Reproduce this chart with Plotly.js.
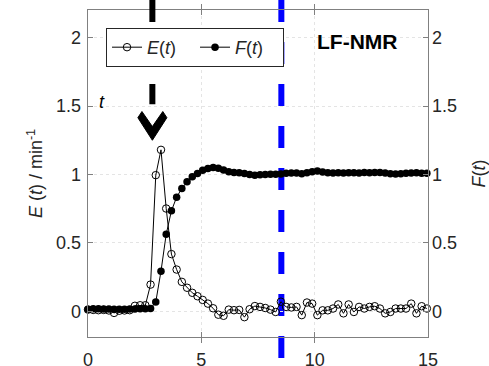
<!DOCTYPE html>
<html>
<head>
<meta charset="utf-8">
<script src="https://cdn.plot.ly/plotly-3.0.1.min.js"></script>
<style>html,body{margin:0;padding:0;background:#fff;}#chart{width:489px;height:366px;}</style>
</head>
<body>
<div id="chart"></div>
<script>
// time (min)
var timeMin = [0, 0.23, 0.46, 0.69, 0.92, 1.15, 1.38, 1.61, 1.84, 2.07, 2.3, 2.53, 2.76, 2.99, 3.22, 3.45, 3.68, 3.91, 4.14, 4.37, 4.6, 4.83, 5.06, 5.29, 5.52, 5.75, 5.98, 6.21, 6.44, 6.67, 6.9, 7.13, 7.36, 7.59, 7.82, 8.05, 8.28, 8.51, 8.74, 8.97, 9.2, 9.43, 9.66, 9.89, 10.12, 10.35, 10.58, 10.81, 11.04, 11.27, 11.5, 11.73, 11.96, 12.19, 12.42, 12.65, 12.88, 13.11, 13.34, 13.57, 13.8, 14.03, 14.26, 14.49, 14.72, 14.95];
// E(t) / min^-1
var Evalues = [0.012, 0.01, 0.008, 0.01, 0.006, -0.012, 0.004, 0.006, 0.008, 0.04, 0.044, 0.044, 0.195, 0.995, 1.18, 0.751, 0.418, 0.305, 0.215, 0.172, 0.135, 0.11, 0.083, 0.056, 0.022, -0.025, -0.033, 0.012, 0.008, 0.01, -0.043, 0.015, 0.038, 0.032, 0.024, 0.012, -0.005, 0.07, 0.032, 0.028, 0.032, -0.028, 0.064, 0.056, -0.028, 0.007, 0.007, 0.02, 0.05, -0.015, 0.05, -0.005, 0.032, 0.02, 0.032, 0.037, 0.02, -0.015, -0.005, 0.02, 0.02, 0.02, 0.056, -0.015, 0.037, 0.02];
// F(t)
var Fvalues = [0.015, 0.018, 0.018, 0.016, 0.016, 0.015, 0.014, 0.015, 0.016, 0.016, 0.018, 0.018, 0.02, 0.068, 0.293, 0.563, 0.734, 0.834, 0.898, 0.946, 0.983, 1.007, 1.03, 1.043, 1.05, 1.045, 1.032, 1.02, 1.015, 1.012, 1.007, 1.0, 0.994, 0.997, 1.0, 1.002, 1.002, 1.004, 1.008, 1.01, 1.01, 1.006, 1.012, 1.02, 1.025, 1.018, 1.012, 1.01, 1.012, 1.01, 1.012, 1.012, 1.01, 1.015, 1.012, 1.015, 1.015, 1.01, 1.005, 1.003, 1.005, 1.008, 1.01, 1.012, 1.008, 1.008];
var xTicks = [0, 5, 10, 15];
var yTicks = [0, 0.5, 1, 1.5, 2];
var yTickText = ['0', '0.5', '1', '1.5', '2'];
var seriesNames = ['<i>E</i>(<i>t</i>)', '<i>F</i>(<i>t</i>)'];
var tracerTime = 2.84;   // injection marker
var windowTime = 8.53;   // blue dashed line

var FONT = 'Liberation Sans, Arial, sans-serif';
var TXT = '#262626';
var AX = '#808080';

var traces = [
  {x: timeMin, y: Evalues, name: seriesNames[0], type: 'scatter', mode: 'lines+markers',
   line: {color: '#000', width: 1}, cliponaxis: false,
   marker: {symbol: 'circle-open', size: 7.5, color: '#000', line: {width: 1, color: '#000'}}},
  {x: timeMin, y: Fvalues, name: seriesNames[1], type: 'scatter', mode: 'lines+markers', yaxis: 'y2',
   line: {color: '#000', width: 1}, cliponaxis: false,
   marker: {symbol: 'circle', size: 7.5, color: '#000'}}
];

var yRange = [-0.188, 2.202];

var layout = {
  width: 489, height: 366,
  margin: {l: 88, r: 61, t: 10, b: 29, pad: 0},
  paper_bgcolor: '#fff', plot_bgcolor: '#fff',
  font: {family: FONT, size: 18, color: TXT},
  showlegend: true,
  legend: {orientation: 'h', x: 0.053, y: 0.945, xanchor: 'left', yanchor: 'top',
           bgcolor: '#fff', bordercolor: '#262626', borderwidth: 1,
           entrywidth: 43, entrywidthmode: 'pixels',
           font: {family: FONT, size: 18, color: TXT}, tracegroupgap: 0},
  xaxis: {range: [0, 15], tickvals: xTicks, ticktext: xTicks.map(String),
          showline: true, linecolor: AX, linewidth: 1.3, mirror: 'allticks',
          ticks: 'inside', ticklen: 5, tickcolor: AX, tickwidth: 1,
          showgrid: true, gridcolor: '#e4e4e4', griddash: 'dot', gridwidth: 1,
          zeroline: false, ticklabelstandoff: 6, tickfont: {family: FONT, size: 18, color: TXT}},
  yaxis: {range: yRange, tickvals: yTicks, ticktext: yTickText,
          showline: true, linecolor: AX, linewidth: 1.3, mirror: 'allticks',
          ticks: 'inside', ticklen: 5, tickcolor: AX, tickwidth: 1,
          showgrid: true, gridcolor: '#e4e4e4', griddash: 'dot', gridwidth: 1,
          zeroline: false, ticklabelstandoff: 2, tickfont: {family: FONT, size: 18, color: TXT},
          title: {text: '<i>E</i> (<i>t</i>) / min<sup>-1</sup>', font: {family: FONT, size: 18, color: TXT}, standoff: 8}},
  yaxis2: {range: yRange, tickvals: yTicks, ticktext: yTickText, overlaying: 'y', side: 'right',
           showline: false, ticks: '', showgrid: false, zeroline: false, ticklabelstandoff: 3,
           tickfont: {family: FONT, size: 18, color: TXT},
           title: {text: '<i>F</i>(<i>t</i>)', font: {family: FONT, size: 18, color: TXT}, standoff: 18}},
  shapes: [
    {type: 'line', xref: 'x', yref: 'paper', x0: windowTime, x1: windowTime, y0: 1.0306, y1: -0.065,
     line: {color: '#0000ff', width: 6, dash: '22px,20px'}, layer: 'below'},
    {type: 'line', xref: 'x', yref: 'paper', x0: tracerTime, x1: tracerTime, y0: 1.0306, y1: 0.712,
     line: {color: '#000', width: 6, dash: '22px,20px'}, layer: 'above'},
    {type: 'path', xref: 'x', yref: 'y',
     path: 'M 2.84 1.25 L 2.20 1.415 L 2.38 1.46 L 2.84 1.35 L 3.30 1.46 L 3.48 1.415 Z',
     fillcolor: '#000', line: {color: '#000', width: 1}, layer: 'above'}
  ],
  annotations: [
    {xref: 'paper', yref: 'paper', x: 0.79, y: 0.905, xanchor: 'center', yanchor: 'middle',
     text: '<b>LF-NMR</b>', showarrow: false, font: {family: FONT, size: 21, color: '#000'}},
    {xref: 'paper', yref: 'paper', x: 0.04, y: 0.718, xanchor: 'center', yanchor: 'middle',
     text: '<i>t</i>', showarrow: false, font: {family: FONT, size: 18, color: '#000'}}
  ]
};

Plotly.newPlot('chart', traces, layout, {staticPlot: true, displayModeBar: false});
</script>
</body>
</html>
